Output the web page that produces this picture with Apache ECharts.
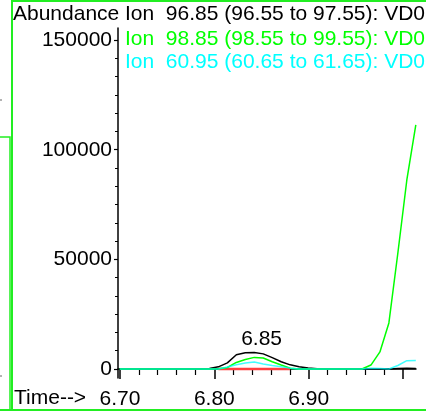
<!DOCTYPE html>
<html>
<head>
<meta charset="utf-8">
<script src="https://cdn.jsdelivr.net/npm/echarts@6/dist/echarts.min.js"></script>
<style>html,body{margin:0;padding:0;background:#fff}#c{width:426px;height:415px}</style>
</head>
<body>
<div id="c"></div>
<script>
// ---- data ----
var times = [6.6998, 6.7093, 6.7188, 6.7283, 6.7378, 6.7473, 6.7568, 6.7663, 6.7758, 6.7853,
             6.7948, 6.8043, 6.8138, 6.8233, 6.8328, 6.8423, 6.8518, 6.8613, 6.8708, 6.8803,
             6.8898, 6.8993, 6.9088, 6.9183, 6.9278, 6.9373, 6.9468, 6.9563, 6.9658, 6.9753,
             6.9848, 6.9943, 7.0038, 7.0133];
var ion9685 = [0, 0, 0, 0, 0, 0, 0, 0, 0, 0,
               200, 1000, 2800, 6500, 7400, 7500, 6900, 5200, 3300, 1900,
               1000, 500, 100, 0, 0, 0, 0, 0, 0, 0,
               0, 200, 300, 200];
var ion9885 = [0, 0, 0, 0, 0, 0, 0, 0, 0, 0,
               0, 100, 700, 3000, 4300, 5300, 5000, 3300, 1800, 400,
               0, 0, 0, 0, 0, 0, 0, 0, 1800, 7800,
               21000, 52900, 86200, 111300];
var ion6095 = [0, 0, 0, 0, 0, 0, 0, 0, 0, 0,
               0, 0, 900, 1900, 2700, 3200, 2300, 1600, 1000, 400,
               0, 0, 0, 0, 0, 0, 0, 0, 300, 200,
               0, 1600, 3800, 3900];
var baselineTimes = [6.8043, 6.8138, 6.8233, 6.8328, 6.8423, 6.8518, 6.8613, 6.8708, 6.8803];
var baselineValues = [0, 0, 0, 0, 0, 0, 0, 0, 0];
var peakLabel = {time: 6.85, value: 7500, text: '6.85'};
var yTickLabels = [0, 50000, 100000, 150000];
var xTickLabels = [6.70, 6.80, 6.90];
var xMajorTicks = [6.70, 6.80, 6.90, 7.00];
var xMinorTicks = [6.72, 6.74, 6.76, 6.78, 6.82, 6.84, 6.86, 6.88, 6.92, 6.94, 6.96, 6.98];
var legendLines = [
  {text: 'Ion  96.85 (96.55 to 97.55): VD0', color: '#000000'},
  {text: 'Ion  98.85 (98.55 to 99.55): VD0', color: '#00ff00'},
  {text: 'Ion  60.95 (60.65 to 61.65): VD0', color: '#00ffff'}
];
var yMinorTicks = [];
for (var k = 1; k < 19; k++) { if (k % 6 !== 0) yMinorTicks.push(k * 50000 / 6); }

function pairs(xs, ys) { return xs.map(function (x, i) { return [x, ys[i]]; }); }

var FONT = '"Liberation Sans", Arial, sans-serif';
var FS = 21;
var chart = echarts.init(document.getElementById('c'), null, {renderer: 'canvas'});

var titles = [{text: 'Abundance', left: 13, top: 4, padding: 0,
  textStyle: {fontSize: FS, fontWeight: 'normal', color: '#000', fontFamily: FONT}}];
var tops = [4, 29, 52];
legendLines.forEach(function (l, i) {
  titles.push({text: l.text, left: 125, top: tops[i], padding: 0,
    textStyle: {fontSize: FS, fontWeight: 'normal', color: l.color, fontFamily: FONT}});
});
titles.push({text: 'Time-->', left: 14, top: 388, padding: 0,
  textStyle: {fontSize: FS, fontWeight: 'normal', color: '#000', fontFamily: FONT}});

var option = {
  animation: false,
  backgroundColor: '#ffffff',
  title: titles,
  grid: {left: 118, right: 10, top: 28, bottom: 37, containLabel: false},
  xAxis: [{
    type: 'value', min: 6.698, max: 7.0135, position: 'bottom',
    axisLine: {show: true, lineStyle: {color: '#000', width: 1.5}},
    axisTick: {show: true, customValues: xMajorTicks, length: 10, lineStyle: {color: '#000', width: 1.5}},
    axisLabel: {show: true, customValues: xTickLabels, margin: 11, fontSize: FS, color: '#000', fontFamily: FONT,
      formatter: function (v) { return v.toFixed(2); }},
    splitLine: {show: false}
  }, {
    type: 'value', min: 6.698, max: 7.0135, position: 'bottom',
    axisLine: {show: false},
    axisTick: {show: true, customValues: xMinorTicks, length: 6, lineStyle: {color: '#000', width: 1.2}},
    axisLabel: {show: false},
    splitLine: {show: false}
  }],
  yAxis: [{
    type: 'value', min: -4100, max: 155500,
    axisLine: {show: true, lineStyle: {color: '#000', width: 1.5}},
    axisTick: {show: true, customValues: yTickLabels, length: 4, lineStyle: {color: '#000', width: 1.2}},
    axisLabel: {show: true, customValues: yTickLabels, margin: 6, fontSize: FS, color: '#000', fontFamily: FONT,
      formatter: function (v) { return String(v); }},
    splitLine: {show: false}
  }, {
    type: 'value', min: -4100, max: 155500, position: 'left',
    axisLine: {show: false},
    axisTick: {show: true, customValues: yMinorTicks, length: 3, lineStyle: {color: '#000', width: 1}},
    axisLabel: {show: false},
    splitLine: {show: false}
  }],
  series: [{
    name: 'baseline', type: 'line', data: pairs(baselineTimes, baselineValues), showSymbol: false, symbol: 'none',
    lineStyle: {color: '#ff4040', width: 2.5}, z: 1
  }, {
    name: 'Ion 96.85', type: 'line', data: pairs(times, ion9685), showSymbol: false, symbol: 'none',
    lineStyle: {color: '#000000', width: 1.5}, z: 2,
    markPoint: {symbol: 'circle', symbolSize: 0, itemStyle: {color: 'rgba(0,0,0,0)'},
      label: {show: true, position: 'top', distance: 3, fontSize: FS, color: '#000', fontFamily: FONT,
        formatter: function () { return peakLabel.text; }},
      data: [{coord: [peakLabel.time, peakLabel.value]}]}
  }, {
    name: 'Ion 98.85', type: 'line', data: pairs(times, ion9885), showSymbol: false, symbol: 'none',
    lineStyle: {color: '#00ff00', width: 1.5}, z: 3
  }, {
    name: 'Ion 60.95', type: 'line', data: pairs(times, ion6095), showSymbol: false, symbol: 'none',
    lineStyle: {color: '#00ffff', width: 1.5, opacity: 0.75}, z: 4
  }],
  graphic: [
    {type: 'rect', shape: {x: 12, y: 1, width: 430, height: 409}, style: {fill: 'none', stroke: '#22ee22', lineWidth: 2}, silent: true},
    {type: 'polyline', shape: {points: [[0, 137], [10, 137], [10, 410]]}, style: {fill: 'none', stroke: '#22ee22', lineWidth: 1.5}, silent: true},
    {type: 'line', shape: {x1: 0, y1: 410, x2: 12, y2: 410}, style: {stroke: '#22ee22', lineWidth: 2}, silent: true},
    {type: 'line', shape: {x1: 0, y1: 100, x2: 2, y2: 100}, style: {stroke: '#666', lineWidth: 1}, silent: true},
    {type: 'line', shape: {x1: 0, y1: 376, x2: 2, y2: 376}, style: {stroke: '#666', lineWidth: 1}, silent: true}
  ]
};
chart.setOption(option);
</script>
</body>
</html>
